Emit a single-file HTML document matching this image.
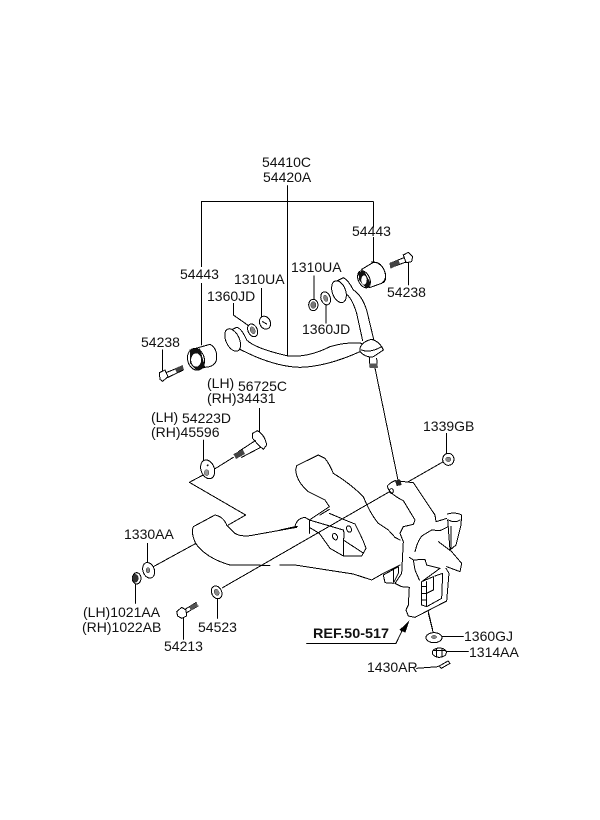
<!DOCTYPE html>
<html><head><meta charset="utf-8"><style>
html,body{margin:0;padding:0;background:#fff}
svg{display:block}
text{font-family:"Liberation Sans",sans-serif;font-size:14px;fill:#111}
.d{fill:none;stroke:#000;stroke-width:3;stroke-linejoin:round;stroke-linecap:round}
.w{fill:#fff;stroke:#000;stroke-width:3}
.k{fill:#111;stroke:#000;stroke-width:1}
g,path,ellipse,circle{shape-rendering:crispEdges}
</style></head><body>
<svg width="600" height="820" viewBox="0 0 600 820" xmlns="http://www.w3.org/2000/svg">
<rect width="600" height="820" fill="#fff"/>

<!-- upper arm, zoom 1 coords -->
<g transform="translate(140,150) scale(.33333)">
<path class="d" d="M442,107V618M184,155H700V232M184,155V350M184,400V585M700,262V345"/>
<path class="d" d="M68,600V665M805,335V405M522,378V450M558,465V520M280,460V495L330,530M365,415V510"/>
<!-- left bushing -->
<path class="w" d="M150,600L210,583Q232,595 230,625Q228,650 195,652L165,660Z"/>
<ellipse class="w" cx="168" cy="628" rx="25" ry="33" transform="rotate(-15 168 628)"/>
<path d="M150,598L180,596L195,650L170,662L150,640Z M168,610A15,20 0 1,0 169,650A15,20 0 1,0 168,610Z" fill="#111" fill-rule="evenodd"/>
<!-- left bolt -->
<path class="w" d="M58,668L75,660L84,680L68,694L60,688Z"/>
<path class="d" d="M78,668L128,648M84,682L130,660"/>
<path d="M105,655L128,645L131,658L110,668Z" fill="#444"/>
<!-- right bushing -->
<path class="w" d="M665,358L695,340Q715,330 730,355Q745,385 725,400L688,413Z"/>
<path class="d" d="M695,336Q725,335 736,370Q740,390 730,398"/>
<ellipse class="w" cx="672" cy="388" rx="17" ry="27" transform="rotate(-25 672 388)"/>
<path d="M655,368L672,362L692,400L680,416L658,392Z M668,378A8,13 0 1,0 676,402A8,13 0 1,0 668,378Z" fill="#111" fill-rule="evenodd"/>
<!-- right bolt -->
<path class="w" d="M790,315L805,307L818,320L815,335L798,338Z"/>
<path class="d" d="M792,323L750,340M798,336L752,353"/>
<path d="M748,340L775,330L780,342L752,356Z" fill="#444"/>
<!-- nuts & washers -->
<ellipse class="w" cx="338" cy="541" rx="14" ry="20" transform="rotate(-25 338 541)"/>
<ellipse class="k" cx="338" cy="541" rx="7" ry="11" transform="rotate(-25 338 541)" style="fill:#888"/>
<ellipse class="w" cx="375" cy="518" rx="16" ry="20" transform="rotate(-25 375 518)"/>
<path class="d" d="M368,515L380,522"/>
<ellipse class="w" cx="520" cy="465" rx="14" ry="17"/>
<ellipse class="k" cx="520" cy="465" rx="8" ry="10" style="fill:#777"/>
<ellipse class="w" cx="557" cy="445" rx="14" ry="20" transform="rotate(-20 557 445)"/>
<ellipse class="k" cx="557" cy="445" rx="6" ry="10" transform="rotate(-20 557 445)" style="fill:#888"/>
<!-- arm -->
<path class="d" d="M262,545L290,532Q305,535 320,570Q345,595 440,617Q500,625 570,590Q620,575 665,580"/>
<path class="d" d="M300,598Q400,650 480,652Q560,650 660,605"/>
<ellipse class="w" cx="278" cy="570" rx="20" ry="36" transform="rotate(-25 278 570)"/>
<path class="d" d="M580,398L610,383Q625,390 640,420Q665,435 680,480L702,572"/>
<path class="d" d="M615,430Q635,440 650,490L668,572"/>
<ellipse class="w" cx="597" cy="425" rx="20" ry="34" transform="rotate(-20 597 425)"/>
<!-- ball joint -->
<path class="w" d="M660,595Q665,575 695,568Q720,575 730,600L700,620Q680,625 660,605Z"/>
<path class="d" d="M665,600Q690,610 725,590M688,622L690,652H712L710,625"/>
<path d="M690,640H712V654H690Z" fill="#555"/>
</g>

<!-- joint-to-knuckle line -->
<path d="M375,368L398,480" fill="none" stroke="#000" stroke-width="1"/>

<!-- lower left, zoom 2 coords -->
<g transform="translate(70,370) scale(.33333)">
<path class="d" d="M568,115V185M400,210V275M233,520V580M197,640V700M340,745V808M442,685V745"/>
<path class="d" d="M437,295L358,337L527,435L475,465"/>
<path class="d" d="M437,295L490,262M250,590L378,520"/>
<path class="d" d="M378,522Q362,490 370,470L435,435Q460,440 470,465L495,490Q510,500 540,497L680,472"/>
<path class="d" d="M378,522Q410,565 480,585L600,586"/>
<!-- 56725C bolt -->
<path class="w" d="M548,190L562,182Q585,195 590,225L580,238L565,225L548,205Z"/>
<path class="d" d="M556,212L505,245M572,232L515,262"/>
<path d="M490,252L518,238L525,252L498,267Z" fill="#444"/>
<!-- 54223D washer -->
<ellipse class="w" cx="413" cy="298" rx="20" ry="29" transform="rotate(-20 413 298)"/>
<ellipse class="k" cx="410" cy="308" rx="7" ry="9" style="fill:#999"/>
<circle cx="413" cy="286" r="3" fill="#111"/>
<!-- 1330AA washer -->
<ellipse class="w" cx="236" cy="601" rx="17" ry="24" transform="rotate(-20 236 601)"/>
<ellipse class="k" cx="234" cy="601" rx="6" ry="8" style="fill:#888"/>
<!-- nut -->
<ellipse class="w" cx="200" cy="625" rx="13" ry="17"/>
<ellipse class="k" cx="196" cy="625" rx="9" ry="12" style="fill:#333"/>
<!-- 54213 bolt -->
<path class="w" d="M320,725L335,712L348,720L350,738L335,745L323,738Z"/>
<path class="d" d="M345,718L378,698M350,728L384,708"/>
<path d="M358,710L380,697L384,708L362,722Z" fill="#555"/>
<!-- 54523 -->
<ellipse class="w" cx="440" cy="667" rx="15" ry="20" transform="rotate(-25 440 667)"/>
<ellipse class="k" cx="440" cy="667" rx="7" ry="10" transform="rotate(-25 440 667)" style="fill:#888"/>
</g>

<!-- long line -->
<path d="M222,588L389,492" fill="none" stroke="#000" stroke-width="1"/>

<!-- rear arm and bracket -->
<g transform="translate(280,450) scale(1)">
<g transform="scale(.33333)">
<path class="d" d="M0,240L45,230Q50,205 75,202L88,210L148,170L135,150L85,125Q50,95 47,60L50,47L115,15L135,25Q150,45 160,70Q210,100 250,140Q270,190 295,220L325,240L345,262L360,270"/>
<path class="d" d="M45,230H52M88,210V250M88,210L190,240M120,195L148,178M148,190L195,210L225,222Q250,270 258,295L245,318H190L150,295L118,250L88,232"/>
<path class="d" d="M190,318V270L248,308M190,240Q195,255 190,270"/>
<ellipse class="d" cx="207" cy="237" rx="7" ry="10" transform="rotate(-25 207 237)"/>
<ellipse class="d" cx="165" cy="260" rx="7" ry="10" transform="rotate(-25 165 260)"/>
<path class="d" d="M0,345H45L220,372L275,390L310,370L360,345"/>
</g></g>

<!-- knuckle -->
<g transform="translate(380,470) scale(.33333)">
<path class="d" d="M22,48Q30,38 45,32L100,38L165,135L168,155L185,150L200,145"/>
<path class="d" d="M22,48Q25,70 70,92L105,150L100,163L70,170L60,190L70,215L65,310L45,340L65,350L88,352L85,405L78,420L85,438L105,442L200,393L207,310L198,295"/>
<path class="d" d="M203,132Q225,125 245,135L243,165L228,225L210,240L203,150M205,150Q225,160 240,150M213,170V235"/>
<path class="d" d="M105,245Q115,205 130,195L155,180L180,182L205,170M175,215L215,245L245,280L240,305L200,290"/>
<path class="d" d="M88,262L100,270L105,300L118,330M100,270L135,268L140,285L180,295L125,335V405L140,410L185,385L188,310L165,318M125,335L160,320V360L140,370M125,350H140M125,370H140M125,390H140M140,335V410"/>
<path class="d" d="M10,315L55,290V310L40,340L15,338ZM40,300V335"/>
<ellipse class="d" cx="34" cy="63" rx="6" ry="7"/>
<path d="M45,32L60,28L65,45L50,48Z" fill="#222"/>
<path class="d" d="M145,425L158,480"/>
</g>

<!-- lower right, zoom 3 coords -->
<g transform="translate(280,410) scale(.33333)">
<path class="d" d="M500,70V130M385,215L490,155M487,680H550M500,725H565M410,775L475,770M445,610L460,670"/>
<!-- 1339GB nut -->
<ellipse class="w" cx="505" cy="148" rx="17" ry="18"/>
<ellipse class="k" cx="505" cy="148" rx="8" ry="7" style="fill:#888"/>
<!-- 1360GJ -->
<ellipse class="w" cx="462" cy="683" rx="24" ry="15"/>
<ellipse class="k" cx="462" cy="681" rx="8" ry="5" style="fill:#888"/>
<!-- 1314AA -->
<ellipse class="w" cx="478" cy="728" rx="21" ry="14"/>
<path class="d" d="M460,722H496M470,715V740M486,715V740"/>
<!-- pin -->
<path class="w" d="M478,768L504,753L510,760L484,775Z"/>
<!-- REF -->
<path class="d" d="M80,700H348L372,650"/>
<path d="M388,632L358,660L376,668Z" fill="#000"/>
</g>

<text x="262" y="167">54410C</text>
<text x="263" y="182">54420A</text>
<text x="352" y="236">54443</text>
<text x="180" y="279">54443</text>
<text x="234" y="284">1310UA</text>
<text x="207" y="301">1360JD</text>
<text x="291" y="272">1310UA</text>
<text x="302" y="334">1360JD</text>
<text x="387" y="297">54238</text>
<text x="141" y="347">54238</text>
<text x="207" y="388">(LH)</text>
<text x="238" y="391">56725C</text>
<text x="207" y="403">(RH)34431</text>
<text x="151" y="422">(LH)</text>
<text x="182" y="423">54223D</text>
<text x="151" y="437">(RH)45596</text>
<text x="124" y="539">1330AA</text>
<text x="83" y="617">(LH)1021AA</text>
<text x="82" y="632">(RH)1022AB</text>
<text x="198" y="632">54523</text>
<text x="164" y="651">54213</text>
<text x="423" y="431">1339GB</text>
<text x="313" y="638" style="font-weight:bold" textLength="76" lengthAdjust="spacingAndGlyphs">REF.50-517</text>
<text x="464" y="641">1360GJ</text>
<text x="469" y="657">1314AA</text>
<text x="367" y="672">1430AR</text>
</svg>
</body></html>
